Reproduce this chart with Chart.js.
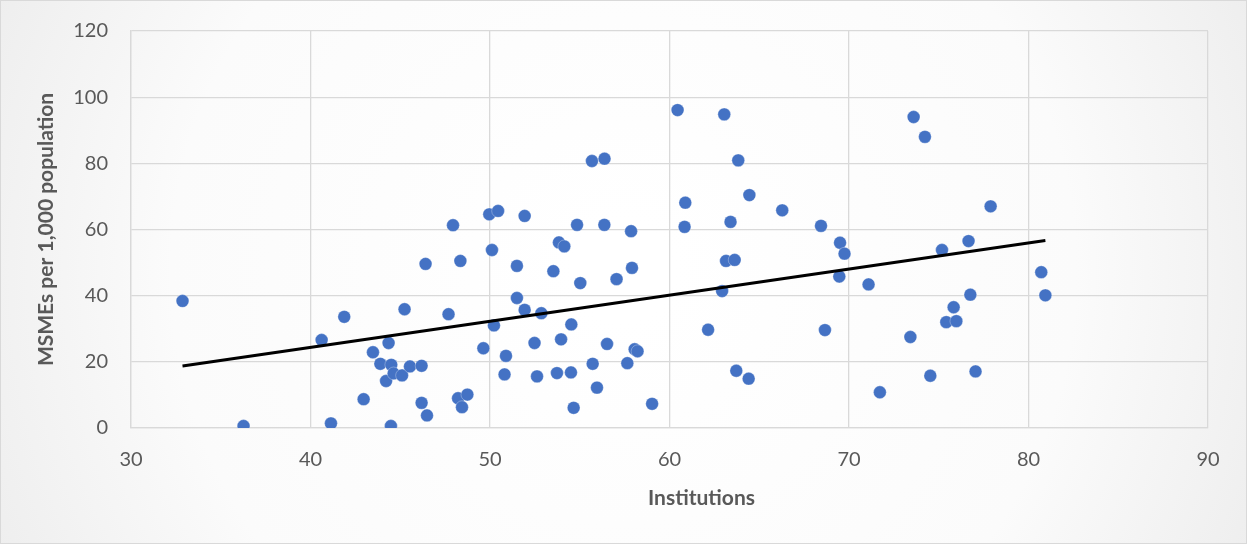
<!DOCTYPE html>
<html>
<head>
<meta charset="utf-8">
<script src="https://cdn.jsdelivr.net/npm/chart.js@4"></script>
<style>
  html, body { margin: 0; padding: 0; background: #fff; }
  #wrap { width: 1247px; height: 544px; }
</style>
</head>
<body>
<div id="wrap"><canvas id="chart" width="1247" height="544"></canvas></div>
<script>
// Institutions (x) vs MSMEs per 1,000 population (y)
const institutions = [
  32.87, 36.27, 41.14, 40.62, 41.88, 42.96, 43.48, 43.89, 44.35, 44.21,
  44.50, 44.48, 44.63, 45.10, 45.24, 45.54, 46.19, 46.19, 46.41, 46.49,
  47.69, 47.94, 48.22, 48.35, 48.44, 48.74, 49.63, 49.96, 50.11, 50.22,
  50.45, 50.89, 50.81, 51.50, 51.50, 51.93, 51.93, 52.48, 52.62, 52.86,
  53.53, 53.84, 53.73, 53.96, 54.14, 54.53, 54.51, 54.66, 54.85, 55.03,
  55.72, 55.68, 55.96, 56.38, 56.37, 56.52, 57.05, 57.65, 57.91, 57.86,
  58.06, 58.22, 59.03, 60.45, 60.88, 60.84, 62.15, 62.93, 63.05, 63.15,
  63.63, 63.40, 63.72, 63.83, 64.41, 64.45, 66.28, 68.44, 68.66, 69.50,
  69.46, 69.75, 71.09, 71.72, 73.42, 73.60, 74.23, 74.53, 75.18, 75.42,
  75.83, 75.98, 76.66, 76.76, 77.05, 77.89, 80.71, 80.94
];
const msmes = [
  38.4, 0.6, 1.4, 26.6, 33.6, 8.7, 22.9, 19.4, 25.7, 14.2,
  19.1, 0.6, 16.5, 15.9, 35.9, 18.6, 7.6, 18.8, 49.6, 3.8,
  34.4, 61.3, 9.0, 50.5, 6.3, 10.1, 24.1, 64.6, 53.8, 31.0,
  65.6, 21.8, 16.2, 49.0, 39.3, 35.7, 64.1, 25.7, 15.6, 34.7,
  47.4, 56.1, 16.6, 26.8, 54.9, 31.3, 16.8, 6.1, 61.4, 43.8,
  19.4, 80.7, 12.2, 81.4, 61.4, 25.4, 45.0, 19.6, 48.4, 59.5,
  23.8, 23.2, 7.3, 96.1, 68.1, 60.8, 29.7, 41.4, 94.8, 50.5,
  50.8, 62.3, 17.3, 80.9, 14.9, 70.4, 65.8, 61.1, 29.6, 56.0,
  45.8, 52.7, 43.4, 10.8, 27.5, 94.0, 88.0, 15.8, 53.8, 32.0,
  36.5, 32.3, 56.5, 40.3, 17.1, 67.0, 47.1, 40.1
];

const xTicks = [30, 40, 50, 60, 70, 80, 90];
const yTicks = [0, 20, 40, 60, 80, 100, 120];
const xTitle = 'Institutions';
const yTitle = 'MSMEs per 1,000 population';

const points = institutions.map((x, i) => ({ x, y: msmes[i] }));

// Linear trendline (least squares), spanning the data range
function trendline(xs, ys) {
  const n = xs.length;
  const mx = xs.reduce((a, b) => a + b, 0) / n;
  const my = ys.reduce((a, b) => a + b, 0) / n;
  let sxy = 0, sxx = 0;
  xs.forEach((x, i) => { sxy += (x - mx) * (ys[i] - my); sxx += (x - mx) * (x - mx); });
  const slope = sxy / sxx, icpt = my - slope * mx;
  const x0 = Math.min(...xs), x1 = Math.max(...xs);
  return [{ x: x0, y: icpt + slope * x0 }, { x: x1, y: icpt + slope * x1 }];
}

const font = 'Lato, "Open Sans", sans-serif';

const frame = {
  id: 'frame',
  beforeDraw(chart) {
    const { ctx, width, height } = chart;
    ctx.save();
    const g = ctx.createRadialGradient(width / 2, height / 2, 50, width / 2, height / 2, 720);
    g.addColorStop(0, '#ffffff');
    g.addColorStop(0.6, '#fbfbfb');
    g.addColorStop(1, '#ececec');
    ctx.fillStyle = g;
    ctx.fillRect(0, 0, width, height);
    ctx.strokeStyle = '#d9d9d9';
    ctx.lineWidth = 1;
    ctx.strokeRect(0.5, 0.5, width - 1, height - 1);
    ctx.restore();
  },
  // x-axis title sits a little right of the plot centre in the original
  afterDraw(chart) {
    const { ctx, chartArea } = chart;
    ctx.save();
    ctx.font = 'bold 21px ' + font;
    ctx.fillStyle = '#595959';
    ctx.textAlign = 'center';
    ctx.textBaseline = 'middle';
    ctx.fillText(xTitle, (chartArea.left + chartArea.right) / 2 + 32, 498);
    ctx.restore();
  }
};

new Chart(document.getElementById('chart'), {
  type: 'scatter',
  data: {
    datasets: [
      {
        type: 'line',
        label: 'Trend',
        data: trendline(institutions, msmes),
        borderColor: '#000000',
        borderWidth: 3,
        pointRadius: 0,
        fill: false,
        order: 0
      },
      {
        label: 'MSMEs',
        data: points,
        backgroundColor: '#4472C4',
        borderColor: 'rgba(255,255,255,0.5)',
        borderWidth: 0.6,
        pointRadius: 6.4,
        order: 1
      }
    ]
  },
  options: {
    responsive: false,
    animation: false,
    layout: { padding: { left: 0, right: 39, top: 31, bottom: 0 } },
    plugins: { legend: { display: false }, tooltip: { enabled: false } },
    scales: {
      x: {
        type: 'linear',
        min: 30, max: 90,
        afterBuildTicks: s => { s.ticks = xTicks.map(v => ({ value: v })); },
        afterFit: s => { s.height = 116; s.paddingLeft = 0; s.paddingRight = 0; },
        grid: { color: '#d9d9d9', lineWidth: 1.3, drawTicks: false },
        border: { color: '#d9d9d9', width: 1.3 },
        ticks: { color: '#595959', font: { family: font, size: 20 }, padding: 20, maxRotation: 0 },
        title: { display: false }
      },
      y: {
        min: 0, max: 120,
        afterBuildTicks: s => { s.ticks = yTicks.map(v => ({ value: v })); },
        afterFit: s => { s.width = 131; s.paddingTop = 0; s.paddingBottom = 0; },
        grid: { color: '#d9d9d9', lineWidth: 1.3, drawTicks: false },
        border: { color: '#d9d9d9', width: 1.3 },
        ticks: { color: '#595959', font: { family: font, size: 20 }, padding: 23 },
        title: {
          display: true, text: yTitle, color: '#595959',
          font: { family: font, size: 21, weight: 'bold' },
          padding: { top: 34, bottom: 0 }
        }
      }
    }
  },
  plugins: [frame]
});
</script>
</body>
</html>
